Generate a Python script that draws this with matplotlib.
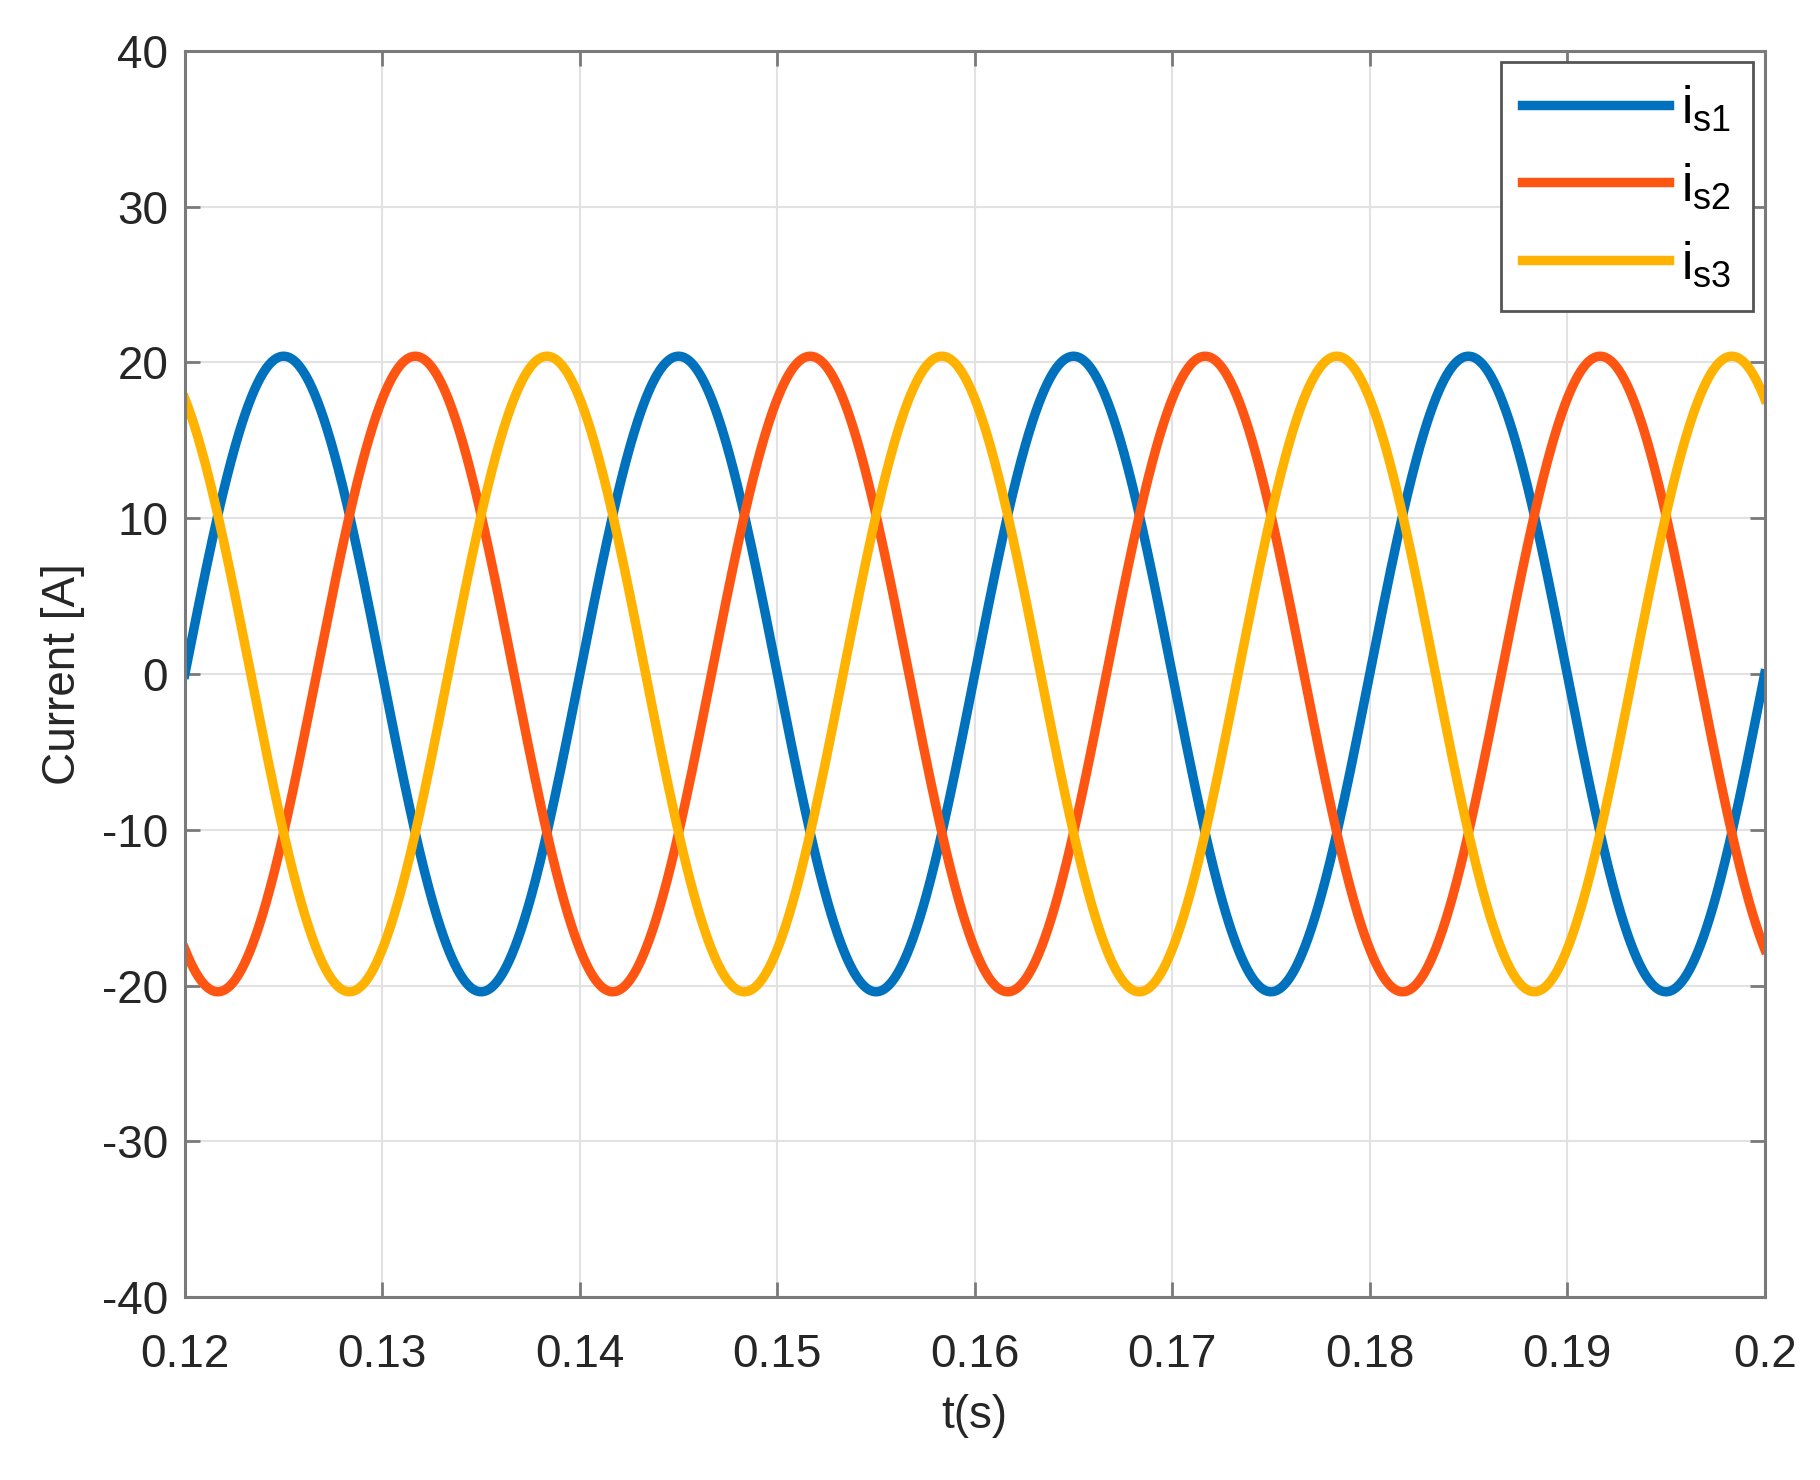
import numpy as np
import matplotlib
matplotlib.use("Agg")
import matplotlib.pyplot as plt

# signal parameters (three-phase stator currents)
t_start = 0.12
t_end = 0.2
amplitude = 20.4          # A
freq_hz = 50.0            # one period = 0.02 s
phase_deg = [0, -120, 120]
labels = [r'$\mathregular{i_{s1}}$', r'$\mathregular{i_{s2}}$', r'$\mathregular{i_{s3}}$']
colors = ['#0072BD', '#FF5512', '#FFB300']

x_ticks = [0.12, 0.13, 0.14, 0.15, 0.16, 0.17, 0.18, 0.19, 0.2]
x_tick_labels = ['0.12', '0.13', '0.14', '0.15', '0.16', '0.17', '0.18', '0.19', '0.2']
y_ticks = [-40, -30, -20, -10, 0, 10, 20, 30, 40]

plt.rcParams['font.family'] = ['Liberation Sans', 'DejaVu Sans']
plt.rcParams['mathtext.fontset'] = 'custom'
plt.rcParams['mathtext.rm'] = 'Liberation Sans'
plt.rcParams['axes.unicode_minus'] = False

fig = plt.figure(figsize=(18.2, 14.8), dpi=100)
ax = fig.add_axes([0.1016, 0.1236, 0.868, 0.842])

t = np.linspace(t_start, t_end, 4001)
for ph, lab, col in zip(phase_deg, labels, colors):
    i_s = amplitude * np.sin(2 * np.pi * freq_hz * t + np.deg2rad(ph))
    ax.plot(t, i_s, color=col, linewidth=6.8, label=lab)

ax.set_xlim(t_start, t_end)
ax.set_ylim(-40, 40)
ax.set_xticks(x_ticks)
ax.set_xticklabels(x_tick_labels)
ax.set_yticks(y_ticks)

ax.grid(True, color='#e2e2e2', linewidth=1.5)
ax.set_axisbelow(True)
for side in ax.spines.values():
    side.set_color('#7a7a7a')
    side.set_linewidth(2.2)
ax.tick_params(direction='in', length=11, width=2, colors='#7a7a7a',
               labelcolor='#262626', labelsize=33, top=True, right=True)
ax.tick_params(axis='x', pad=26)
ax.tick_params(axis='y', pad=12)

ax.set_xlabel('t(s)', fontsize=33, color='#262626', labelpad=12)
ax.set_ylabel('Current [A]', fontsize=33, color='#262626', labelpad=12)

leg = ax.legend(loc='upper right', fontsize=37, handlelength=2.85,
                borderaxespad=0.22, fancybox=False, framealpha=1,
                labelspacing=0.55, handletextpad=0.25, borderpad=0.42)
leg.get_frame().set_edgecolor('#555555')
leg.get_frame().set_linewidth(2)

plt.savefig('out.png', dpi=100)
